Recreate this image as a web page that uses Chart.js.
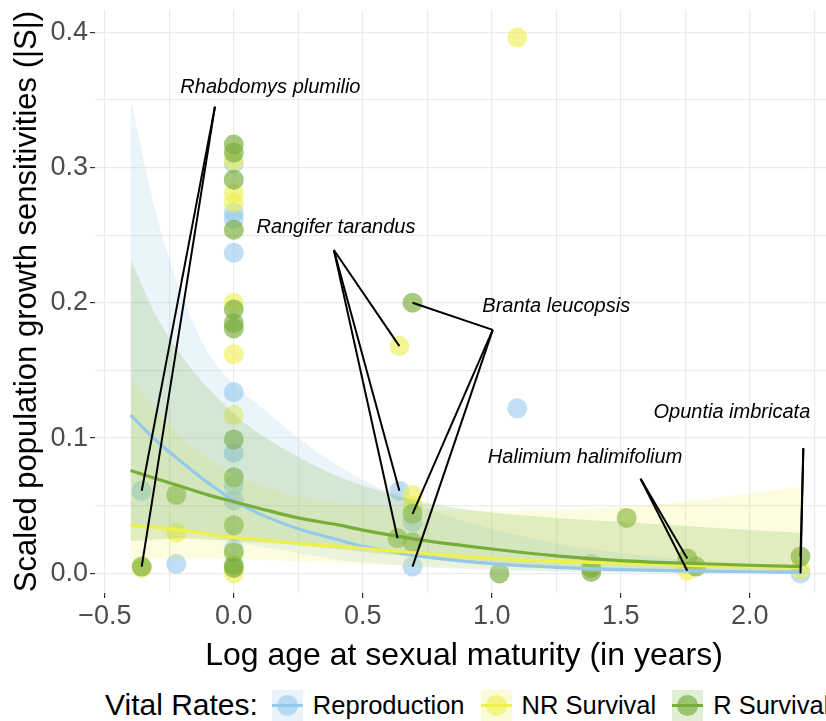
<!DOCTYPE html>
<html>
<head>
<meta charset="utf-8">
<script src="https://cdn.jsdelivr.net/npm/chart.js@4.4.1/dist/chart.umd.min.js"></script>
<style>
  html, body { margin: 0; padding: 0; background: #fff; overflow: hidden; }
  #wrap { position: relative; width: 826px; height: 721px; overflow: hidden; }
  #chart { position: absolute; left: 0; top: 0; }
  #legend {
    position: absolute; left: 105px; top: 689px; height: 32px;
    display: flex; align-items: center; white-space: nowrap;
    font-family: "Liberation Sans", Arial, sans-serif; font-size: 25.5px; color: #000;
  }
  #legend .title { font-size: 30px; margin-right: 14px; }
  #legend .key { position: relative; width: 31px; height: 31px; margin-right: 10px; }
  #legend .key .dot { position: absolute; left: 5px; top: 5px; width: 21px; height: 21px; border-radius: 50%; }
  #legend .key .ln { position: absolute; left: 0; top: 14px; width: 31px; height: 3px; }
  #legend .txt { margin-right: 16px; }
</style>
</head>
<body>
<div id="wrap">
  <canvas id="chart" width="843" height="680"></canvas>
  <div id="legend"></div>
</div>
<script>
// ---- data ----
const reproX = [-0.357, -0.223, 0, 0, 0, 0, 0, 0, 0, 0, 0, 0.642, 0.693, 0.693, 1.099, 1.386, 2.197];
const reproY = [0.061, 0.007, 0.303, 0.267, 0.262, 0.237, 0.134, 0.089, 0.065, 0.054, 0.018, 0.061, 0.038, 0.005, 0.122, 0.007, 0.0];

const nrX = [-0.357, -0.223, 0, 0, 0, 0, 0, 0, 0, 0.642, 0.693, 0.693, 1.099, 1.386, 1.758, 2.197];
const nrY = [0.004, 0.030, 0.305, 0.281, 0.274, 0.200, 0.162, 0.117, 0.0, 0.168, 0.058, 0.050, 0.396, 0.005, 0.002, 0.003];

const rX = [-0.357, -0.223, 0, 0, 0, 0, 0, 0, 0, 0, 0, 0, 0, 0, 0, 0.635, 0.693, 0.693, 0.693, 1.030, 1.386, 1.386, 1.523, 1.758, 1.792, 2.197];
const rY = [0.005, 0.058, 0.317, 0.311, 0.291, 0.254, 0.195, 0.185, 0.181, 0.099, 0.071, 0.0355, 0.0155, 0.006, 0.004, 0.026, 0.200, 0.044, 0.023, 0.0, 0.004, 0.001, 0.041, 0.011, 0.005, 0.0125];

// fitted curves and 95% bands, read at these x values
const fitX = [-0.4, -0.3, -0.2, -0.1, 0, 0.1, 0.25, 0.4, 0.5, 0.65, 0.75, 1.0, 1.25, 1.5, 1.75, 2.0, 2.2];

const reproFit  = [0.117, 0.098, 0.082, 0.067, 0.054, 0.044, 0.033, 0.025, 0.020, 0.015, 0.012, 0.0072, 0.0045, 0.0028, 0.0018, 0.0012, 0.0009];
const reproLow  = [0.036, 0.035, 0.033, 0.029, 0.024, 0.020, 0.015, 0.010, 0.008, 0.006, 0.0045, 0.0025, 0.0012, 0.0006, 0.0003, 0.0002, 0.0001];
const reproHigh = [0.35, 0.265, 0.205, 0.163, 0.140, 0.124, 0.100, 0.080, 0.069, 0.056, 0.048, 0.033, 0.022, 0.015, 0.010, 0.007, 0.005];

const nrFit  = [0.0355, 0.034, 0.032, 0.029, 0.0265, 0.025, 0.022, 0.020, 0.0185, 0.016, 0.0145, 0.011, 0.009, 0.0075, 0.006, 0.005, 0.0045];
const nrLow  = [0.010, 0.011, 0.011, 0.011, 0.011, 0.010, 0.009, 0.008, 0.007, 0.006, 0.005, 0.003, 0.002, 0.001, 0.0008, 0.0005, 0.0003];
const nrHigh = [0.145, 0.12, 0.10, 0.085, 0.073, 0.065, 0.057, 0.052, 0.050, 0.048, 0.047, 0.046, 0.047, 0.049, 0.053, 0.059, 0.064];

const rFit  = [0.076, 0.070, 0.064, 0.058, 0.053, 0.048, 0.041, 0.036, 0.032, 0.027, 0.024, 0.018, 0.013, 0.0095, 0.0075, 0.006, 0.005];
const rLow  = [0.024, 0.025, 0.026, 0.025, 0.024, 0.023, 0.021, 0.018, 0.016, 0.013, 0.011, 0.007, 0.004, 0.0025, 0.0015, 0.001, 0.0008];
const rHigh = [0.232, 0.19, 0.16, 0.137, 0.118, 0.103, 0.086, 0.072, 0.065, 0.057, 0.052, 0.045, 0.041, 0.038, 0.035, 0.032, 0.030];

const xTicks = [-0.5, -0.25, 0, 0.25, 0.5, 0.75, 1.0, 1.25, 1.5, 1.75, 2.0, 2.25];
const yTicks = [0, 0.05, 0.1, 0.15, 0.2, 0.25, 0.3, 0.35, 0.4];

const seriesNames = ["Reproduction", "NR Survival", "R Survival"];

// species labels: label anchor (data units), segment start, and the points the segments go to
const speciesLabels = [
  { text: "Rhabdomys plumilio", at: [0.142, 0.3595], from: [-0.073, 0.345], to: [[-0.357, 0.061], [-0.357, 0.005]] },
  { text: "Rangifer tarandus", at: [0.396, 0.256], from: [0.388, 0.239], to: [[0.642, 0.168], [0.642, 0.061], [0.635, 0.026]] },
  { text: "Branta leucopsis", at: [1.25, 0.197], from: [1.004, 0.180], to: [[0.693, 0.200], [0.693, 0.044], [0.693, 0.005]] },
  { text: "Halimium halimifolium", at: [1.362, 0.0858], from: [1.577, 0.070], to: [[1.758, 0.011], [1.758, 0.002]] },
  { text: "Opuntia imbricata", at: [1.931, 0.119], from: [2.208, 0.0925], to: [[2.197, 0.0125], [2.197, 0.0]] },
];

const blue = "rgb(150,200,236)";
const yellow = "rgb(238,240,75)";
const green = "rgb(120,173,58)";
const FONT = "'Liberation Sans', Arial, sans-serif";

const pts = (xs, ys) => xs.map((x, i) => ({ x, y: ys[i] }));

function pointSet(label, xs, ys, color, order) {
  return {
    label, data: pts(xs, ys), showLine: false, order,
    pointRadius: 10, pointHoverRadius: 10, pointBorderWidth: 0,
    pointBackgroundColor: color,
  };
}
function lineSet(ys, color, order) {
  return {
    data: pts(fitX, ys), order, borderColor: color, borderWidth: 3.2,
    pointRadius: 0, fill: false, cubicInterpolationMode: "monotone",
  };
}
function bandSets(lowY, highY, fillColor, lowIndex, order) {
  return [
    { data: pts(fitX, lowY), order, borderWidth: 0, pointRadius: 0, fill: false, cubicInterpolationMode: "monotone" },
    { data: pts(fitX, highY), order, borderWidth: 0, pointRadius: 0, fill: lowIndex, backgroundColor: fillColor, cubicInterpolationMode: "monotone" },
  ];
}

// higher order is drawn first: points, then ribbons, then fitted lines on top
const datasets = [
  pointSet(seriesNames[0], reproX, reproY, "rgba(150,200,236,0.6)", 13), // 0
  pointSet(seriesNames[1], nrX, nrY, "rgba(238,240,75,0.6)", 12),         // 1
  pointSet(seriesNames[2], rX, rY, "rgba(120,173,58,0.66)", 11),          // 2
  ...bandSets(reproLow, reproHigh, "rgba(150,200,236,0.2)", 3, 10),       // 3,4
  ...bandSets(nrLow, nrHigh, "rgba(238,240,75,0.18)", 5, 9),              // 5,6
  ...bandSets(rLow, rHigh, "rgba(120,173,58,0.2)", 7, 8),                 // 7,8
  lineSet(reproFit, blue, 3),                                             // 9
  lineSet(nrFit, yellow, 2),                                              // 10
  lineSet(rFit, green, 1),                                                // 11
];

const fmt = (v) => (v < 0 ? "\u2212" : "") + Math.abs(v).toFixed(1);
const isMajor = (v, k) => Math.abs(v * k - Math.round(v * k)) < 1e-6;

const labelPlugin = {
  id: "speciesLabels",
  afterDatasetsDraw(chart) {
    const { ctx, scales: { x, y } } = chart;
    ctx.save();
    ctx.strokeStyle = "#000";
    ctx.lineWidth = 2;
    speciesLabels.forEach((s) => {
      const fx = x.getPixelForValue(s.from[0]);
      const fy = y.getPixelForValue(s.from[1]);
      s.to.forEach(([tx, ty]) => {
        ctx.beginPath();
        ctx.moveTo(fx, fy);
        ctx.lineTo(x.getPixelForValue(tx), y.getPixelForValue(ty));
        ctx.stroke();
      });
      ctx.fillStyle = "#000";
      ctx.font = "italic 20px " + FONT;
      ctx.textAlign = "center";
      ctx.textBaseline = "middle";
      ctx.fillText(s.text, x.getPixelForValue(s.at[0]), y.getPixelForValue(s.at[1]));
    });
    ctx.restore();
  },
};

new Chart(document.getElementById("chart"), {
  type: "line",
  data: { datasets },
  plugins: [labelPlugin],
  options: {
    responsive: false,
    animation: false,
    layout: { padding: { top: 10, right: 4, left: 0, bottom: 0 } },
    plugins: { legend: { display: false }, tooltip: { enabled: false } },
    scales: {
      x: {
        type: "linear", min: -0.538, max: 2.323,
        afterBuildTicks: (s) => { s.ticks = xTicks.map((v) => ({ value: v })); },
        afterFit: (s) => { s.height = 87; s.paddingLeft = 0; s.paddingRight = 0; },
        border: { display: false },
        grid: {
          color: "#ebebeb", lineWidth: 1.2, tickLength: 5,
          tickColor: (c) => (isMajor(c.tick.value, 2) ? "#333" : "rgba(0,0,0,0)"),
        },
        ticks: {
          autoSkip: false, maxRotation: 0, padding: 2, color: "#4d4d4d",
          font: { family: FONT, size: 27 },
          callback: (v) => (isMajor(v, 2) ? fmt(v) : ""),
        },
        title: {
          display: true, text: "Log age at sexual maturity (in years)", color: "#000",
          font: { family: FONT, size: 32 }, padding: { top: 0, bottom: 5 },
        },
      },
      y: {
        type: "linear", min: -0.0145, max: 0.4164,
        afterBuildTicks: (s) => { s.ticks = yTicks.map((v) => ({ value: v })); },
        afterFit: (s) => { s.width = 95; s.paddingTop = 0; s.paddingBottom = 0; },
        border: { display: false },
        grid: {
          color: "#ebebeb", lineWidth: 1.2, tickLength: 5,
          tickColor: (c) => (isMajor(c.tick.value, 10) ? "#333" : "rgba(0,0,0,0)"),
        },
        ticks: {
          autoSkip: false, padding: 2, color: "#4d4d4d",
          font: { family: FONT, size: 27 },
          callback: (v) => (isMajor(v, 10) ? v.toFixed(1) : ""),
        },
        title: {
          display: true, text: "Scaled population growth sensitivities (|S|)", color: "#000",
          font: { family: FONT, size: 31 }, padding: { top: 9, bottom: 0 },
        },
      },
    },
  },
});

// legend
const legend = document.getElementById("legend");
legend.innerHTML = '<span class="title">Vital Rates:</span>';
const keyColors = [
  ["rgba(150,200,236,0.22)", blue, "rgba(150,200,236,0.6)"],
  ["rgba(238,240,75,0.22)", yellow, "rgba(238,240,75,0.6)"],
  ["rgba(120,173,58,0.22)", green, "rgba(120,173,58,0.66)"],
];
seriesNames.forEach((name, i) => {
  const [bg, ln, dot] = keyColors[i];
  legend.innerHTML +=
    `<span class="key" style="background:${bg}"><span class="ln" style="background:${ln}"></span>` +
    `<span class="dot" style="background:${dot}"></span></span><span class="txt">${name}</span>`;
});
</script>
</body>
</html>
